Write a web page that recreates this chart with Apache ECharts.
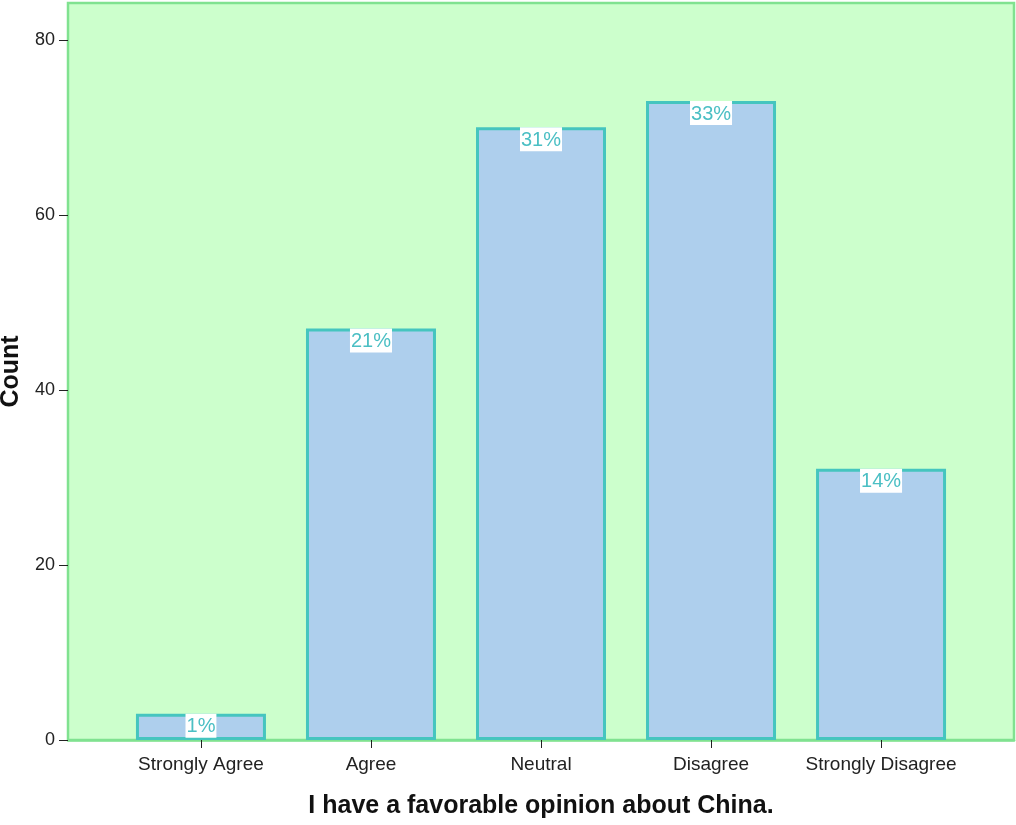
<!DOCTYPE html>
<html>
<head>
<meta charset="utf-8">
<script src="https://cdn.jsdelivr.net/npm/echarts@6/dist/echarts.min.js"></script>
<style>html,body{margin:0;padding:0;background:#fff}#c{width:1016px;height:825px}</style>
</head>
<body>
<div id="c"></div>
<script>
const categories = ['Strongly Agree', 'Agree', 'Neutral', 'Disagree', 'Strongly Disagree'];
const counts = [3, 47, 70, 73, 31];
const percentLabels = ['1%', '21%', '31%', '33%', '14%'];
const yTicks = [0, 20, 40, 60, 80];

const chart = echarts.init(document.getElementById('c'));
const idx = categories.map((_, i) => i);
const FONT = 'Liberation Sans';
chart.setOption({
  animation: false,
  grid: {
    left: 68, right: 2, top: 3, bottom: 85,
    containLabel: false, outerBoundsMode: 'none',
    show: true, backgroundColor: '#ccffcc', borderColor: '#80e290', borderWidth: 2.5
  },
  xAxis: {
    type: 'value', min: -0.782, max: 4.782,
    name: 'I have a favorable opinion about China.',
    nameLocation: 'middle', nameGap: 54,
    nameTextStyle: { fontFamily: FONT, fontWeight: 'bold', fontSize: 25, color: '#111' },
    axisLine: { show: true, onZero: false, lineStyle: { color: '#80e290', width: 2.5 } },
    axisTick: { show: true, customValues: idx, length: 8, lineStyle: { color: '#222' } },
    axisLabel: {
      customValues: idx, margin: 15,
      fontFamily: FONT, fontSize: 19, color: '#222',
      formatter: v => categories[Math.round(v)]
    },
    splitLine: { show: false }
  },
  yAxis: {
    type: 'value', min: 0, max: 84.2,
    name: 'Count', nameLocation: 'middle', nameGap: 40, nameRotate: 90,
    nameTextStyle: { fontFamily: FONT, fontWeight: 'bold', fontSize: 25, color: '#111' },
    axisLine: { show: false, onZero: false },
    axisTick: { show: true, customValues: yTicks, length: 9, lineStyle: { color: '#222' } },
    axisLabel: { customValues: yTicks, margin: 13, fontFamily: FONT, fontSize: 18, color: '#222' },
    splitLine: { show: false }
  },
  series: [{
    type: 'bar',
    data: counts.map((v, i) => [i, v]),
    barWidth: 130,
    itemStyle: { color: '#aecfed', borderColor: '#45c5bf', borderWidth: 3 },
    label: {
      show: true, position: 'insideTop', distance: 0,
      formatter: p => percentLabels[p.dataIndex],
      fontFamily: FONT, fontSize: 20, color: '#4bbfc4',
      backgroundColor: '#ffffff', padding: [3, 1, 1, 1]
    }
  }]
});
</script>
</body>
</html>
